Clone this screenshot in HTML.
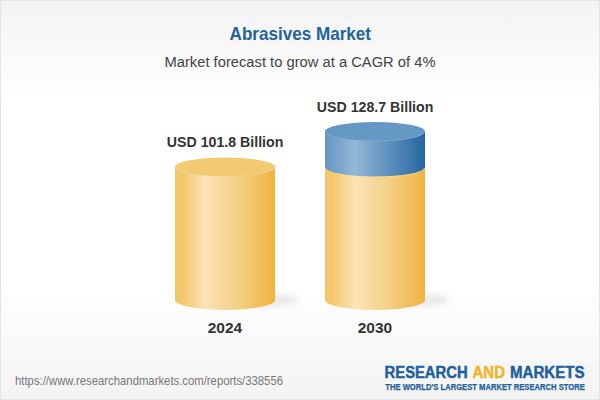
<!DOCTYPE html>
<html><head><meta charset="utf-8">
<style>
html,body{margin:0;padding:0;width:600px;height:400px;overflow:hidden;background:#fff;}
svg{display:block;}
text{font-family:"Liberation Sans",sans-serif;}
</style></head>
<body>
<svg width="600" height="400" viewBox="0 0 600 400">
<defs>
  <linearGradient id="bg" x1="0" y1="0" x2="0" y2="1">
    <stop offset="0" stop-color="#f3f3f3"/>
    <stop offset="0.25" stop-color="#ffffff"/>
    <stop offset="0.72" stop-color="#ffffff"/>
    <stop offset="1" stop-color="#f3f3f3"/>
  </linearGradient>
  <linearGradient id="ys" x1="0" y1="0" x2="1" y2="0">
    <stop offset="0" stop-color="#f2c567"/>
    <stop offset="0.08" stop-color="#f3c86e"/>
    <stop offset="0.3" stop-color="#fae3b5"/>
    <stop offset="0.6" stop-color="#f5d28b"/>
    <stop offset="1" stop-color="#efb440"/>
  </linearGradient>
  <linearGradient id="bs" x1="0" y1="0" x2="1" y2="0">
    <stop offset="0" stop-color="#6596c3"/>
    <stop offset="0.3" stop-color="#93b7d6"/>
    <stop offset="1" stop-color="#2566a2"/>
  </linearGradient>
  <filter id="blur" x="-50%" y="-50%" width="200%" height="200%"><feGaussianBlur stdDeviation="3"/></filter>
</defs>
<rect x="0" y="0" width="600" height="400" fill="url(#bg)"/>
<rect x="0.5" y="0.5" width="599" height="399" fill="none" stroke="#e5e5e5" stroke-width="1"/>

<text x="300.3" y="39.5" text-anchor="middle" font-size="18.2" font-weight="bold" fill="#24639f" textLength="141.5" lengthAdjust="spacingAndGlyphs">Abrasives Market</text>
<text x="300" y="66.9" text-anchor="middle" font-size="14.9" fill="#444" textLength="271" lengthAdjust="spacingAndGlyphs">Market forecast to grow at a CAGR of 4%</text>

<!-- shadows -->
<ellipse cx="272" cy="300" rx="27" ry="6.5" fill="#000" opacity="0.075" filter="url(#blur)"/>
<ellipse cx="422" cy="300" rx="27" ry="6.5" fill="#000" opacity="0.075" filter="url(#blur)"/>

<!-- cylinder 1 -->
<path d="M175 167 V300 A50 10 0 0 0 275 300 V167 Z" fill="url(#ys)"/>
<ellipse cx="225" cy="167" rx="50" ry="9.5" fill="#f3ca74"/>
<path d="M175.5 167 A49.5 9.5 0 0 0 274.5 167" fill="none" stroke="#f9dfa6" stroke-width="0.8" opacity="0.55"/>

<!-- cylinder 2 -->
<path d="M325 167 V300 A50 10 0 0 0 425 300 V167 Z" fill="url(#ys)"/>
<path d="M325 131.5 V167 A50 9.5 0 0 0 425 167 V131.5 Z" fill="url(#bs)"/>
<path d="M325.5 167.8 A49.5 9.5 0 0 0 424.5 167.8" fill="none" stroke="#fbdb95" stroke-width="1" opacity="0.6"/>
<ellipse cx="375" cy="131.5" rx="50" ry="9.5" fill="#6598c4"/>
<path d="M325.5 131.5 A49.5 9.5 0 0 0 424.5 131.5" fill="none" stroke="#9cbcd8" stroke-width="0.8" opacity="0.55"/>

<text x="225.1" y="147" text-anchor="middle" font-size="14.9" font-weight="bold" fill="#333" textLength="116.5" lengthAdjust="spacingAndGlyphs">USD 101.8 Billion</text>
<text x="375.1" y="112" text-anchor="middle" font-size="14.9" font-weight="bold" fill="#333" textLength="116.5" lengthAdjust="spacingAndGlyphs">USD 128.7 Billion</text>

<text x="225" y="332.9" text-anchor="middle" font-size="15.5" font-weight="bold" fill="#333" textLength="34.5" lengthAdjust="spacingAndGlyphs">2024</text>
<text x="375" y="332.9" text-anchor="middle" font-size="15.5" font-weight="bold" fill="#333" textLength="34.5" lengthAdjust="spacingAndGlyphs">2030</text>

<text x="15" y="385" font-size="12.4" fill="#777" textLength="268" lengthAdjust="spacingAndGlyphs">https://www.researchandmarkets.com/reports/338556</text>

<text x="384.6" y="377.6" font-size="16" font-weight="bold" fill="#1f5e9e" textLength="83" stroke="#1f5e9e" stroke-width="0.45" lengthAdjust="spacingAndGlyphs">RESEARCH</text>
<text x="472.5" y="377.6" font-size="16" font-weight="bold" fill="#f0b32a" textLength="32.5" stroke="#f0b32a" stroke-width="0.45" lengthAdjust="spacingAndGlyphs">AND</text>
<text x="510" y="377.6" font-size="16" font-weight="bold" fill="#1f5e9e" textLength="74.5" stroke="#1f5e9e" stroke-width="0.45" lengthAdjust="spacingAndGlyphs">MARKETS</text>
<text x="385.3" y="389.9" font-size="8.3" font-weight="bold" fill="#1f5e9e" stroke="#1f5e9e" stroke-width="0.25" textLength="199.5" lengthAdjust="spacingAndGlyphs">THE WORLD'S LARGEST MARKET RESEARCH STORE</text>
</svg>
</body></html>
